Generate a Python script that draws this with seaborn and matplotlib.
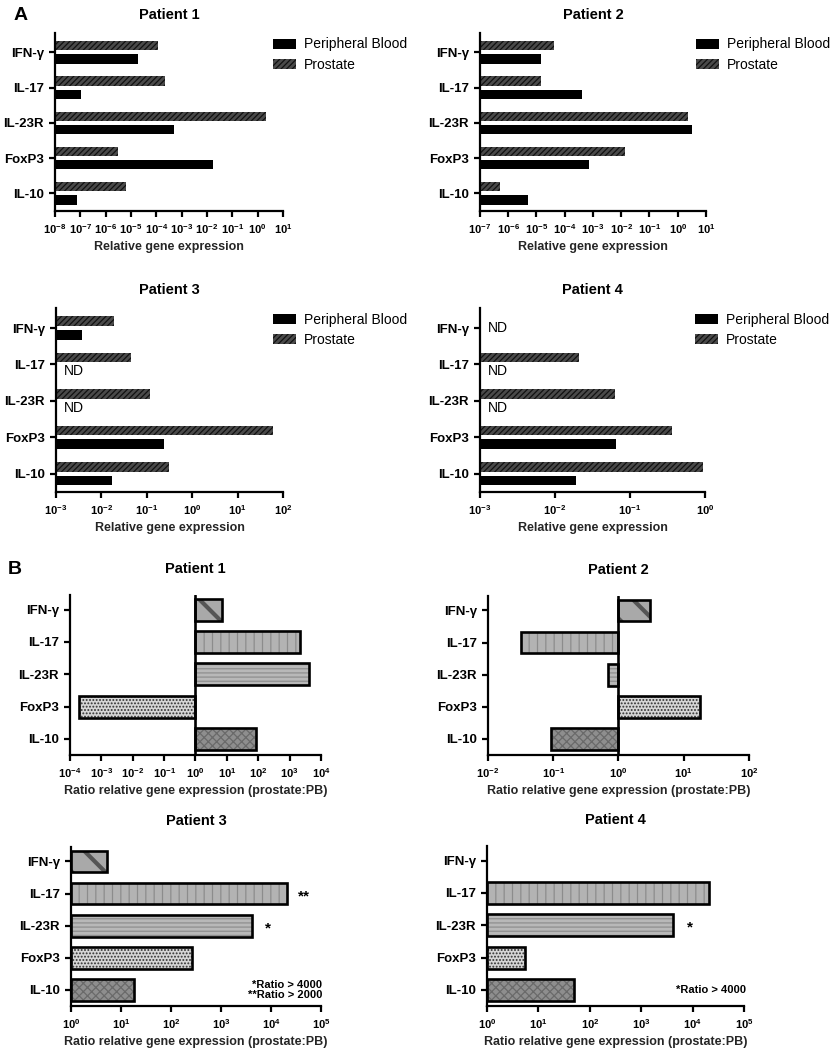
import numpy as np
import pandas as pd
import matplotlib
matplotlib.use("Agg")
import matplotlib.pyplot as plt
import seaborn as sns
from matplotlib.patches import Patch
from matplotlib.ticker import FixedLocator, NullLocator, FuncFormatter

# --- data ---
GENES = ["IFN-γ", "IL-17", "IL-23R", "FoxP3", "IL-10"]
TISSUES = ["Prostate", "Peripheral Blood"]
NAN = np.nan

# Panel A: relative gene expression
p1_pb = [1.9e-5, 1.1e-7, 5.0e-4, 1.7e-2, 7.6e-8]
p1_prostate = [1.2e-4, 2.3e-4, 2.1, 3.2e-6, 6.2e-6]
p2_pb = [1.4e-5, 4.2e-4, 3.3, 7.4e-4, 5.0e-6]
p2_prostate = [4.3e-5, 1.4e-5, 2.4, 1.4e-2, 5.1e-7]
p3_pb = [3.7e-3, NAN, NAN, 0.24, 1.7e-2]
p3_prostate = [1.9e-2, 4.5e-2, 0.12, 60.0, 0.31]
p4_pb = [NAN, NAN, NAN, 6.5e-2, 1.9e-2]
p4_prostate = [NAN, 2.1e-2, 6.3e-2, 0.36, 0.95]

# Panel B: ratio prostate:PB
p1_ratio = [7.1, 2100, 4100, 2.0e-4, 82]
p2_ratio = [3.0, 0.032, 0.69, 17.7, 0.094]
p3_ratio = [5.2, 21000, 4100, 260, 18]
p4_ratio = [NAN, 21000, 4200, 5.4, 49]

p3_stars = {"IL-17": "**", "IL-23R": "*"}
p4_stars = {"IL-23R": "*"}
p3_note = "*Ratio > 4000\n**Ratio > 2000"
p4_note = "*Ratio > 4000"

PROSTATE_COLOR = "#4a4a4a"
# face colour, hatch, hatch colour, hatch width for each gene in panel B
RATIO_STYLES = {
    "IFN-γ": ("#a9a9a9", "\\", "#555555", 3.0),
    "IL-17": ("#b3b3b3", "||", "#8c8c8c", 0.9),
    "IL-23R": ("#b8b8b8", "----", "#8e8e8e", 0.9),
    "FoxP3": ("#d6d6d6", ".....", "#303030", 0.9),
    "IL-10": ("#8e8e8e", "xxxx", "#6a6a6a", 0.9),
}

sns.set_theme(style="ticks")
plt.rcParams["font.family"] = ["Liberation Sans", "DejaVu Sans"]
plt.rcParams.update({
    "font.weight": "bold",
    "axes.labelweight": "bold",
    "axes.titleweight": "bold",
    "axes.linewidth": 1.6,
    "xtick.major.width": 1.6,
    "ytick.major.width": 1.6,
    "xtick.major.size": 4.5,
    "ytick.major.size": 4.5,
    "xtick.color": "black",
    "ytick.color": "black",
    "axes.edgecolor": "black",
    "text.color": "black",
    "hatch.linewidth": 0.9,
    "mathtext.fontset": "custom",
    "mathtext.rm": "Liberation Sans:bold",
    "mathtext.bf": "Liberation Sans:bold",
    "mathtext.default": "bf",
})

W, H = 837, 1050
fig = plt.figure(figsize=(W / 100, H / 100), dpi=100)


def px_axes(left, top, right, bottom):
    return fig.add_axes([left / W, 1 - bottom / H, (right - left) / W, (bottom - top) / H])


def pow_label(v, _):
    return "$10^{%d}$" % round(np.log10(v))


def plot_expression(ax, pb, prostate, title, lo, hi):
    df = pd.DataFrame({
        "gene": GENES * 2,
        "tissue": ["Prostate"] * len(GENES) + ["Peripheral Blood"] * len(GENES),
        "value": list(prostate) + list(pb),
    })
    sns.barplot(data=df, x="value", y="gene", hue="tissue", order=GENES,
                hue_order=TISSUES, palette={"Prostate": PROSTATE_COLOR,
                                            "Peripheral Blood": "black"},
                width=0.75, gap=0.3, log_scale=True, linewidth=0,
                legend=False, ax=ax)
    # bars start at 0, which a log axis can't draw: start them at the axis edge
    left = 10.0 ** lo
    for p in ax.patches:
        right = p.get_x() + p.get_width()
        p.set_x(left)
        p.set_width(right - left)
    for bar in ax.containers[0]:
        bar.set_hatch("//////")
        bar.set_edgecolor("#111111")
    ax.set_xlim(10.0 ** lo, 10.0 ** hi)
    ax.xaxis.set_major_locator(FixedLocator([10.0 ** k for k in range(lo, hi + 1)]))
    ax.xaxis.set_minor_locator(NullLocator())
    ax.xaxis.set_major_formatter(FuncFormatter(pow_label))
    ax.set_ylim(4.5, -0.55)
    ax.set_ylabel("")
    ax.set_xlabel("Relative gene expression", fontsize=9, labelpad=4)
    ax.set_title(title, fontsize=10.5, pad=10)
    ax.tick_params(axis="x", labelsize=8)
    ax.tick_params(axis="y", labelsize=9.5)
    sns.despine(ax=ax)

    # ND = not detected
    trans = ax.get_yaxis_transform()
    for i, g in enumerate(GENES):
        if np.isnan(pb[i]):
            y = i if np.isnan(prostate[i]) else i + 0.19
            ax.text(0.035, y, "ND", transform=trans, ha="left", va="center",
                    fontsize=10, fontweight="normal")

    handles = [Patch(facecolor="black", linewidth=0),
               Patch(facecolor=PROSTATE_COLOR, edgecolor="#111111",
                     hatch="//////", linewidth=0)]
    ax.legend(handles, ["Peripheral Blood", "Prostate"], loc="upper left",
              bbox_to_anchor=(0.955, 0.975), frameon=False, borderpad=0,
              borderaxespad=0, handlelength=1.65, handleheight=0.75,
              handletextpad=0.6, labelspacing=0.45,
              prop={"size": 10, "weight": "normal"})


def plot_ratio(ax, ratios, title, lo, hi, stars=None, note=None):
    df = pd.DataFrame({"gene": GENES, "log_ratio": np.log10(ratios)})
    # textured fill first, then a black outline on top
    sns.barplot(data=df, x="log_ratio", y="gene", order=GENES, width=0.68,
                color="#aaaaaa", linewidth=0, ax=ax)
    for p in ax.containers[0]:
        idx = int(round(p.get_y() + p.get_height() / 2))
        face, hatch, hcolor, hwidth = RATIO_STYLES[GENES[idx]]
        p.set_facecolor(face)
        p.set_hatch(hatch)
        p.set_edgecolor(hcolor)
        if hasattr(p, "set_hatch_linewidth"):
            p.set_hatch_linewidth(hwidth)
    sns.barplot(data=df, x="log_ratio", y="gene", order=GENES, width=0.68,
                fill=False, color="black", linewidth=1.9, ax=ax)
    if lo < 0:
        ax.axvline(0, color="black", linewidth=1.9, zorder=3)
    ax.set_xlim(lo, hi)
    ax.xaxis.set_major_locator(FixedLocator(list(range(lo, hi + 1))))
    ax.xaxis.set_major_formatter(FuncFormatter(lambda v, _: "$10^{%d}$" % round(v)))
    ax.set_ylim(4.5, -0.45)
    ax.set_ylabel("")
    ax.set_xlabel("Ratio relative gene expression (prostate:PB)", fontsize=9,
                  labelpad=4)
    ax.set_title(title, fontsize=10.5, pad=16)
    ax.tick_params(axis="x", labelsize=8)
    ax.tick_params(axis="y", labelsize=9.5)
    sns.despine(ax=ax)

    for gene, mark in (stars or {}).items():
        i = GENES.index(gene)
        ax.text(np.log10(ratios[i]) + 0.33, i + 0.08, mark, ha="center",
                va="center", fontsize=11)
    if note:
        ax.text(hi + 0.03, 4, note, ha="right", va="center", fontsize=8,
                linespacing=1.1)


# Panel A
plot_expression(px_axes(55, 33, 283, 211), p1_pb, p1_prostate, "Patient 1", -8, 1)
plot_expression(px_axes(480, 33, 706, 211), p2_pb, p2_prostate, "Patient 2", -7, 1)
plot_expression(px_axes(56, 308, 283, 492), p3_pb, p3_prostate, "Patient 3", -3, 2)
plot_expression(px_axes(480, 308, 705, 492), p4_pb, p4_prostate, "Patient 4", -3, 0)

# Panel B
plot_ratio(px_axes(70, 595, 321, 755), p1_ratio, "Patient 1", -4, 4)
plot_ratio(px_axes(488, 596, 749, 755), p2_ratio, "Patient 2", -2, 2)
plot_ratio(px_axes(71, 847, 321, 1006), p3_ratio, "Patient 3", 0, 5, p3_stars, p3_note)
plot_ratio(px_axes(487, 846, 744, 1006), p4_ratio, "Patient 4", 0, 5, p4_stars, p4_note)

fig.text(14 / W, 1 - 15 / H, "A", fontsize=14, va="center", ha="left")
fig.text(8 / W, 1 - 570 / H, "B", fontsize=14, va="center", ha="left")

fig.savefig("out.png", dpi=100)
